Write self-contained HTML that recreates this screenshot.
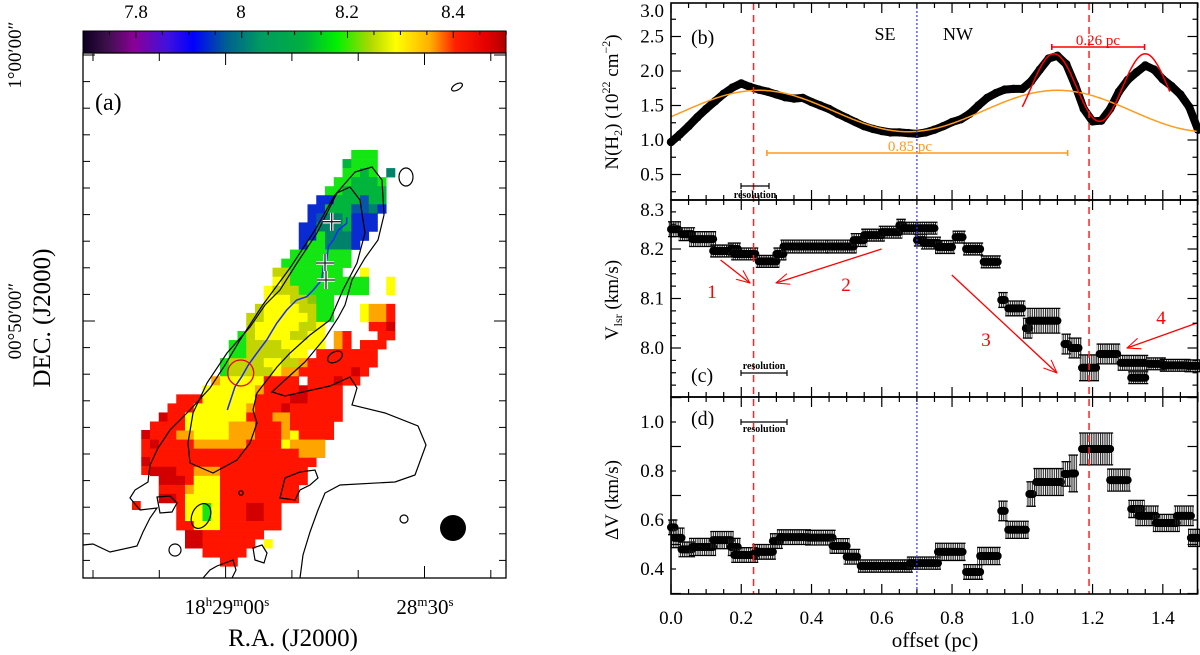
<!DOCTYPE html>
<html><head><meta charset="utf-8">
<style>
html,body{margin:0;padding:0;background:#fff;}
svg{display:block;}
text{font-family:"Liberation Serif","DejaVu Serif",serif;}
</style></head>
<body>
<svg id="fig" width="1200" height="655" viewBox="0 0 1200 655" xmlns="http://www.w3.org/2000/svg">
<defs>
<linearGradient id="cbar" x1="0" x2="1" y1="0" y2="0">
<stop offset="0" stop-color="#0a0020"/><stop offset="0.06" stop-color="#40104e"/>
<stop offset="0.12" stop-color="#8a0096"/><stop offset="0.2" stop-color="#4010e0"/>
<stop offset="0.26" stop-color="#0000ff"/><stop offset="0.34" stop-color="#006090"/>
<stop offset="0.42" stop-color="#009a60"/><stop offset="0.52" stop-color="#00b040"/>
<stop offset="0.6" stop-color="#00f000"/><stop offset="0.68" stop-color="#b0d800"/>
<stop offset="0.74" stop-color="#ffff00"/><stop offset="0.82" stop-color="#ffb000"/>
<stop offset="0.88" stop-color="#ff2000"/><stop offset="0.95" stop-color="#e80000"/>
<stop offset="1" stop-color="#b00000"/>
</linearGradient>
<pattern id="vstripe" width="2.2" height="10" patternUnits="userSpaceOnUse">
<rect x="0" y="0" width="1.1" height="10" fill="#222"/>
</pattern>
<marker id="ah" viewBox="0 0 20 20" refX="19" refY="10" markerWidth="14" markerHeight="14" orient="auto" markerUnits="userSpaceOnUse">
<path d="M0,2 L19,10 L0,18" fill="none" stroke="#f00" stroke-width="1.5"/>
</marker>
</defs>

<g id="left">
<rect x="83" y="31" width="423" height="22" fill="url(#cbar)" stroke="#000" stroke-width="1"/>
<g id="cbticks"></g>
<text x="136" y="18" font-size="19" text-anchor="middle">7.8</text>
<text x="241" y="18" font-size="19" text-anchor="middle">8</text>
<text x="347" y="18" font-size="19" text-anchor="middle">8.2</text>
<text x="453" y="18" font-size="19" text-anchor="middle">8.4</text>
<g id="mapcells"></g>
<g id="contours" fill="none" stroke="#000" stroke-width="1.2">
<polyline points="83,545 93,544 110,552 137,546 143,532 150,518 157,508 140,510 130,498 135,490 148,482 150,465 158,448 170,430 190,410 210,388 225,365 240,340 262,306 290,268 315,230 335,195 355,172 372,167 382,180 384,215 378,240 365,258 352,280 345,305 338,318 325,338 305,362 285,380 272,392 285,396 330,386 350,377 357,388 352,405 385,413 418,426 426,445 415,475 395,482 340,485 325,493 318,510 310,532 303,555 300,578"/>
<polygon points="350,187 360,200 365,233 357,263 343,290 330,320 310,335 290,353 277,367 257,393 253,410 257,423 250,443 237,460 213,473 190,463 188,443 193,413 207,383 227,353 250,327 265,305 280,290 297,263 317,233 337,193"/>
<polygon points="280,498 285,478 300,472 315,470 318,478 310,485 300,490 295,500"/>
<ellipse cx="201" cy="516" rx="9" ry="13" transform="rotate(25 201 516)"/>
<ellipse cx="335" cy="357" rx="8" ry="5" transform="rotate(-30 335 357)"/>
<polygon points="157,497 170,496 177,503 172,512 160,513"/>
<circle cx="241" cy="493" r="2.2"/>
<circle cx="404" cy="519" r="4"/>
<circle cx="175" cy="550" r="6"/>
<polygon points="253,548 262,545 267,553 264,563 255,560"/>
<ellipse cx="457" cy="87" rx="6" ry="3" transform="rotate(-30 457 87)"/>
<ellipse cx="406" cy="177" rx="7" ry="9"/>
<polyline points="203,578 210,570 217,566 233,560 236,570 232,578"/>
</g>
<polyline fill="none" stroke="#1a2aff" stroke-width="1.5" points="346.7,217.3 346.7,223.3 338.3,230 333.3,240 328.3,246.7 326.7,260 323.3,266.7 321.7,280 313.3,290 306.7,296.7 296.7,300 286.7,310 276.7,323.3 266.7,340 256.7,353.3 248.3,365 241.7,376.7 235,386.7 231.7,396.7 227.3,410"/>
<circle cx="240.7" cy="373" r="13" fill="none" stroke="#e00" stroke-width="1.3"/>
<g id="crosses"></g>
<circle cx="453" cy="528" r="13" fill="#000"/>
<rect x="83" y="53" width="423" height="525" fill="none" stroke="#000" stroke-width="1.3"/>
<g id="mapticks" stroke="#000" stroke-width="1"></g>
<text x="95" y="110" font-size="24">(a)</text>
<text transform="translate(21,55) rotate(-90)" font-size="19" text-anchor="middle">1°00′00″</text>
<text transform="translate(21,321) rotate(-90)" font-size="19" text-anchor="middle">00°50′00″</text>
<text transform="translate(50,318) rotate(-90)" font-size="25" text-anchor="middle">DEC. (J2000)</text>
<text x="227" y="614" font-size="21" text-anchor="middle">18<tspan font-size="13" dy="-8">h</tspan><tspan dy="8">29</tspan><tspan font-size="13" dy="-8">m</tspan><tspan dy="8">00</tspan><tspan font-size="13" dy="-8">s</tspan></text>
<text x="425" y="614" font-size="21" text-anchor="middle">28<tspan font-size="13" dy="-8">m</tspan><tspan dy="8">30</tspan><tspan font-size="13" dy="-8">s</tspan></text>
<text x="293" y="646" font-size="25" text-anchor="middle">R.A. (J2000)</text>
</g>

<g id="right"></g>
<text x="935" y="647" font-size="21" text-anchor="middle">offset (pc)</text>
<text transform="translate(618,102) rotate(-90)" font-size="19" text-anchor="middle">N(H<tspan font-size="12" dy="4">2</tspan><tspan dy="-4">) (10</tspan><tspan font-size="12" dy="-8">22</tspan><tspan dy="8"> cm</tspan><tspan font-size="12" dy="-8">−2</tspan><tspan dy="8">)</tspan></text>
<text transform="translate(618,300) rotate(-90)" font-size="19" text-anchor="middle">V<tspan font-size="12" dy="4">lsr</tspan><tspan dy="-4"> (km/s)</tspan></text>
<text transform="translate(618,500) rotate(-90)" font-size="19" text-anchor="middle">ΔV (km/s)</text>
</svg>

<script>
// ---------------- data: panel (b) N(H2) profile ----------------
const nh2Offsets = [0,0.025,0.05,0.075,0.1,0.125,0.15,0.175,0.2,0.225,0.25,0.275,0.3,0.325,0.35,0.375,0.4,0.425,0.45,0.475,0.5,0.525,0.55,0.575,0.6,0.625,0.65,0.675,0.7,0.725,0.75,0.775,0.8,0.825,0.85,0.875,0.9,0.925,0.95,0.975,1.0,1.025,1.05,1.075,1.1,1.125,1.15,1.175,1.2,1.225,1.25,1.275,1.3,1.325,1.35,1.375,1.4,1.425,1.45,1.475,1.5];
const nh2Values = [0.97,1.08,1.2,1.33,1.45,1.56,1.67,1.76,1.82,1.77,1.73,1.70,1.66,1.62,1.60,1.61,1.55,1.50,1.45,1.38,1.32,1.26,1.2,1.16,1.13,1.11,1.11,1.10,1.09,1.11,1.15,1.2,1.26,1.3,1.38,1.5,1.61,1.68,1.73,1.74,1.74,1.85,2.02,2.18,2.22,2.1,1.8,1.45,1.27,1.28,1.45,1.7,1.87,1.98,2.08,2.02,1.88,1.78,1.66,1.48,1.15];
// sinusoid fits: [mean, amplitude, period(pc), peak offset, xmin, xmax]
const orangeFit = [1.42, 0.30, 0.85, 0.25, 0.0, 1.5];
const redFit = [1.76, 0.49, 0.26, 1.09, 1.0, 1.42];
// ---------------- data: panel (c) Vlsr steps ----------------
const vStart = [0.0,0.03,0.06,0.12,0.17,0.18,0.25,0.30,0.32,0.45,0.52,0.55,0.60,0.65,0.66,0.70,0.72,0.76,0.81,0.84,0.89,0.94,0.96,1.01,1.02,1.12,1.14,1.17,1.22,1.28,1.31,1.36,1.40,1.47];
const vEnd   = [0.02,0.06,0.12,0.17,0.19,0.24,0.30,0.32,0.44,0.52,0.55,0.60,0.65,0.66,0.75,0.72,0.76,0.80,0.83,0.88,0.93,0.95,1.00,1.02,1.10,1.13,1.16,1.21,1.27,1.35,1.35,1.40,1.47,1.50];
const vVal   = [8.24,8.23,8.22,8.196,8.2,8.19,8.175,8.19,8.205,8.205,8.218,8.228,8.234,8.248,8.242,8.218,8.212,8.204,8.224,8.2,8.174,8.097,8.08,8.04,8.055,8.008,8.0,7.96,7.988,7.97,7.94,7.968,7.965,7.964];
const vErr   = [0.015,0.013,0.015,0.012,0.012,0.012,0.012,0.012,0.013,0.013,0.013,0.012,0.012,0.012,0.012,0.012,0.012,0.013,0.012,0.012,0.012,0.015,0.015,0.02,0.025,0.02,0.02,0.026,0.02,0.015,0.012,0.012,0.012,0.012];
// ---------------- data: panel (d) line width steps ----------------
const dStart = [0.0,0.01,0.03,0.06,0.12,0.17,0.18,0.24,0.29,0.31,0.39,0.46,0.50,0.54,0.68,0.76,0.84,0.88,0.94,0.96,1.02,1.04,1.12,1.14,1.17,1.25,1.31,1.33,1.38,1.44,1.48];
const dEnd   = [0.01,0.03,0.06,0.12,0.17,0.19,0.24,0.29,0.31,0.39,0.46,0.50,0.53,0.68,0.76,0.83,0.88,0.93,0.95,1.01,1.03,1.11,1.13,1.15,1.25,1.30,1.34,1.38,1.44,1.48,1.50];
const dVal   = [0.57,0.527,0.48,0.49,0.518,0.49,0.457,0.47,0.514,0.53,0.528,0.494,0.45,0.412,0.424,0.47,0.388,0.453,0.637,0.56,0.706,0.755,0.788,0.79,0.89,0.763,0.645,0.617,0.588,0.617,0.527];
const dErr   = [0.03,0.04,0.03,0.035,0.035,0.035,0.03,0.03,0.03,0.03,0.03,0.03,0.03,0.025,0.025,0.035,0.03,0.035,0.04,0.035,0.05,0.055,0.05,0.075,0.065,0.045,0.035,0.04,0.035,0.04,0.035];
// tick labels
const xTickLabels = ["0.0","0.2","0.4","0.6","0.8","1.0","1.2","1.4"];
const bTickLabels = ["0.5","1.0","1.5","2.0","2.5","3.0"];
const cTickLabels = ["8.0","8.1","8.2","8.3"];
const dTickLabels = ["0.4","0.6","0.8","1.0"];
// reference lines
const redLines = [0.235, 1.19];
const blueLine = [0.70];

const NS = "http://www.w3.org/2000/svg";
function mk(tag, attrs, parent){ const e=document.createElementNS(NS,tag); for(const k in attrs) e.setAttribute(k,attrs[k]); parent.appendChild(e); return e; }

const L = 671, R = 1197.5;
const xS = p => L + p*351.3;
const yB = v => 140 - (v-1)*69;
const yC = v => 249 - (v-8.2)*495;
const yD = v => 422 + (1.0-v)*245;
const panels = [{y0:3,y1:200,ys:yB,name:'b'},{y0:200,y1:397,ys:yC,name:'c'},{y0:397,y1:594,ys:yD,name:'d'}];
const right = document.getElementById('right');

panels.forEach(p=>{
  const g = mk('g',{},right);
  
  
  p.g = g;
});
const gb = panels[0].g;
redLines.forEach(v=>{
  const ln = mk('line',{x1:xS(v),x2:xS(v),y1:3,y2:594,stroke:'#f22','stroke-width':1.5,'stroke-dasharray':'7,5'},right);
  
  
});
blueLine.forEach(v=>{
  const ln = mk('line',{x1:xS(v),x2:xS(v),y1:3,y2:594,stroke:'#33f','stroke-width':1.2,'stroke-dasharray':'2,2'},right);
  
  
});
function fitPath(f){
  let d='';
  for(let x=f[4]; x<=f[5]+1e-9; x+=0.005){
    const v = f[0] + f[1]*Math.cos(2*Math.PI*(x-f[3])/f[2]);
    d += (d?'L':'M') + xS(x).toFixed(1)+','+yB(v).toFixed(1);
  }
  return d;
}
let pts = nh2Offsets.map((x,i)=>xS(x).toFixed(1)+','+yB(nh2Values[i]).toFixed(1)).join(' ');
const prof = mk('polyline',{points:pts,fill:'none',stroke:'#000','stroke-width':8,'stroke-linejoin':'round','stroke-linecap':'round'},gb);


nh2Offsets.forEach((x,i)=>{
  const c = mk('circle',{cx:xS(x),cy:yB(nh2Values[i]),r:4.2,fill:'#000'},gb);
  
  
});
const ofit = mk('path',{d:fitPath(orangeFit),fill:'none',stroke:'#ff9a1a','stroke-width':1.5},gb);


const rfit = mk('path',{d:fitPath(redFit),fill:'none',stroke:'#f00','stroke-width':1.5},gb);


function bar(x1,x2,y,col,w,name){
  const g=mk('g',{stroke:col,'stroke-width':w},right);
  
  
  mk('line',{x1:x1,x2:x2,y1:y,y2:y},g);
  mk('line',{x1:x1,x2:x1,y1:y-3,y2:y+3},g);
  mk('line',{x1:x2,x2:x2,y1:y-3,y2:y+3},g);
}
bar(xS(0.273),xS(1.129),153,'#ff9a1a',1.6,'period-bar-0.85pc');
bar(xS(1.084),xS(1.348),47,'#f00',1.6,'period-bar-0.26pc');
bar(741,769,186,'#000',1.2,'resolution-bar-b');
bar(741,787,373,'#000',1.2,'resolution-bar-c');
bar(741,787,422,'#000',1.2,'resolution-bar-d');
function txt(x,y,s,size,col,anchor,name,weight){
  const t=mk('text',{x:x,y:y,'font-size':size,fill:col,'text-anchor':anchor||'start'},right);
  if(weight){ t.setAttribute('font-weight',weight); t.setAttribute('font-family','"Liberation Mono","DejaVu Sans Mono",monospace'); }
  t.textContent=s;
  
  
  return t;
}
txt(910,151,'0.85 pc',15,'#ff9a1a','middle','label-0.85pc');
txt(1098,45,'0.26 pc',15,'#f00','middle','label-0.26pc');
txt(755,198,'resolution',10,'#000','middle','resolution-label-b','bold');
txt(764,369,'resolution',10,'#000','middle','resolution-label-c','bold');
txt(764,432,'resolution',10,'#000','middle','resolution-label-d','bold');
txt(691,44,'(b)',20,'#000','start','panel-label-b');
txt(691,382,'(c)',20,'#000','start','panel-label-c');
txt(691,425,'(d)',20,'#000','start','panel-label-d');
txt(885,40,'SE',18,'#000','middle','label-se');
txt(958,40,'NW',18,'#000','middle','label-nw');

function steps(g, s, e, v, er, ys, name){
  s.forEach((x0,i)=>{
    const x1=xS(x0)-3, x2=xS(e[i])+3, yt=ys(v[i]+er[i]), yb=ys(v[i]-er[i]);
    const grp=mk('g',{},g);
    
    
    mk('rect',{x:x1,y:yt,width:x2-x1,height:yb-yt,fill:'url(#vstripe)'},grp);
    mk('line',{x1:x1,x2:x2,y1:yt,y2:yt,stroke:'#000','stroke-width':1.3},grp);
    mk('line',{x1:x1,x2:x2,y1:yb,y2:yb,stroke:'#000','stroke-width':1.3},grp);
    mk('line',{x1:xS(x0),x2:xS(e[i]),y1:ys(v[i]),y2:ys(v[i]),stroke:'#000','stroke-width':8,'stroke-linecap':'round'},grp);
  });
}
steps(panels[1].g, vStart, vEnd, vVal, vErr, yC, 'vlsr-step');
steps(panels[2].g, dStart, dEnd, dVal, dErr, yD, 'linewidth-step');

[[720.6,260,750,283,'arrow-1'],[881.6,249,776,283,'arrow-2'],[951.8,275,1057,373,'arrow-3'],[1197,323,1127,348,'arrow-4']].forEach(a=>{
  const l=mk('line',{x1:a[0],y1:a[1],x2:a[2],y2:a[3],stroke:'#f00','stroke-width':1.3,'marker-end':'url(#ah)'},right);
  
  
});
txt(712,298,'1',19,'#f00','middle','arrow-label-1');
txt(846,291,'2',19,'#f00','middle','arrow-label-2');
txt(986,346,'3',19,'#f00','middle','arrow-label-3');
txt(1161,324,'4',19,'#f00','middle','arrow-label-4');

const tg = mk('g',{stroke:'#000','stroke-width':1.2},right);


panels.forEach(p=>{
  const fr = mk('rect',{x:L,y:p.y0,width:R-L,height:p.y1-p.y0,fill:'none',stroke:'#000','stroke-width':1.6},right);
  
  
  for(let k=0;k<=30;k++){
    const x=xS(k*0.05), len=(k%4===0)?10:5;
    mk('line',{x1:x,x2:x,y1:p.y1,y2:p.y1-len},tg);
    mk('line',{x1:x,x2:x,y1:p.y0,y2:p.y0+len},tg);
  }
});
function yTicks(ys, lo, hi, step, majorEvery, y0, y1){
  const n=Math.round((hi-lo)/step);
  for(let k=0;k<=n;k++){
    const v=lo+k*step, y=ys(v);
    if(y<y0-0.5||y>y1+0.5) continue;
    const len=(k%majorEvery===0)?10:5;
    mk('line',{x1:L,x2:L+len,y1:y,y2:y},tg);
    mk('line',{x1:R,x2:R-len,y1:y,y2:y},tg);
  }
}
yTicks(yB,0.0,3.0,0.25,2,3,200);
yTicks(yC,7.9,8.3,0.025,4,200,397);
yTicks(yD,0.3,1.1,0.1,2,397,594);
bTickLabels.forEach(s=>{ const y=Math.max(yB(parseFloat(s))+6,17); txt(664,y,s,19,'#000','end','y-tick-b'); });
cTickLabels.forEach(s=>{ const y=Math.max(yC(parseFloat(s))+6,216); txt(664,y,s,19,'#000','end','y-tick-c'); });
dTickLabels.forEach(s=>{ txt(664,yD(parseFloat(s))+6,s,19,'#000','end','y-tick-d'); });
xTickLabels.forEach(s=>{ txt(xS(parseFloat(s)),624,s,19,'#000','middle','x-tick'); });

// ---------------- left panel: velocity map pixels ----------------
const mapRows = [
".......................GGG....",
"......................gGGG....",
"......................GGgG.T..",
".....................GGgggG...",
"....................GGggggg...",
"...................BBgggbgg...",
"..................BBgggbbTB...",
"..................BbTTgBBB....",
".................BBTTTgBBB....",
".................BBGTTTBB.....",
".................BGGTTTB......",
"................GGGGGGG.......",
"...............GGGGGGGG.......",
"..............yyGGGGGG..Y.....",
"..............YyGGGGGGGGG..Y..",
".............YyyyGGGGGGGG..Y..",
".............YYYyyoGG.........",
"............yYYYYyyGG...YOOR..",
"...........yyYYYYYyGG...YOOR..",
"...........yYYYYYyyY.....RRD..",
"..........GyYYYYyyYY.OR...RR..",
".........GGyyyyYYYYY.OR.RRR...",
".........GGyyyyyYY.RRRRRRR....",
"........GyyyyYYyyORRRRRRRR....",
"........GyyyyyYOORRRRRRDR.....",
".......OYYYYYRRRR.RRRDRR......",
"......YYYYYYORRRRDRRRR........",
"...RRRYYYYYYRRRRDDRRRR........",
"..RRRYYYYYYORRRDRRRRRR........",
".DRRYYYYYYYRRROORRRRRR........",
"RRRRYYYYYOOORRRORRRRR.........",
"RRROOYYYYOOORRROYRRRR.........",
"DRRRROOOOOORRRRYOOOO..........",
"RRRRRRRRRRRRRRRRROOO..........",
"RRRRRRRRRRRRRRRRRRR...........",
"DDDRROOORRRRRRRRRR............",
".DDDRYYYRRRRRRRRRR............",
".RRROYYYRRRRRRRRR.............",
".DDRYYYYRRRRRRRRR.............",
"...RYYGYRRRDDRR...............",
"...RYYGYRRRDDRR...............",
"...RRYYYRRRRRRR...............",
"....DDRRRRRRR.................",
"....DDRRRRRR.Y................",
"......RRRRR...................",
"........RR...................."];
const pixColors = {G:'#14e614',g:'#00b43c',T:'#00826a',B:'#0a2ad2',b:'#0854a8',y:'#c4d400',o:'#8cc800',Y:'#ffff00',O:'#ffa500',R:'#ff1400',D:'#d20000'};
const mc = document.getElementById('mapcells');
const cw = 8.75, ch = 9.05, gx0 = 150, gy0 = 150;
mapRows.forEach((row,r)=>{
  for(let c=0;c<row.length;c++){
    const k=row[c]; if(k==='.') continue;
    const e=mk('rect',{x:(gx0+c*cw).toFixed(2),y:(gy0+r*ch).toFixed(2),width:cw+0.3,height:ch+0.3,fill:pixColors[k]},mc);
    
    
  }
});
const lone = mk('rect',{x:132,y:501,width:8.75,height:9,fill:'#ff1400'},mc);


[[141.25,430,'D'],[141.25,439,'R'],[141.25,448,'R'],[141.25,457,'D'],[141.25,466,'R']].forEach(p=>{
  const e=mk('rect',{x:p[0],y:p[1],width:8.75,height:9,fill:pixColors[p[2]]},mc);
  
  
});

const cr=document.getElementById('crosses');
[[331.7,221.7],[325,263],[326,280]].forEach(p=>{
  const g=mk('g',{},cr);
  
  
  mk('path',{d:`M${p[0]-9},${p[1]}H${p[0]+9}M${p[0]},${p[1]-9}V${p[1]+9}`,stroke:'#fff','stroke-width':3.5},g);
  mk('path',{d:`M${p[0]-9},${p[1]}H${p[0]+9}M${p[0]},${p[1]-9}V${p[1]+9}`,stroke:'#222','stroke-width':1.3},g);
});

const mt=document.getElementById('mapticks');
for(let x=93;x<506;x+=66.3){
  const big = Math.abs(x-226)<3||Math.abs(x-425)<3;
  mk('line',{x1:x,x2:x,y1:578,y2:578-(big?12:8)},mt);
  mk('line',{x1:x,x2:x,y1:53,y2:53+(big?12:8)},mt);
}
for(let k=-1;k<=20;k++){
  const y=55+k*26.6; if(y<53||y>578) continue;
  mk('line',{x1:83,x2:83+(k%10===0?12:7),y1:y,y2:y},mt);
  mk('line',{x1:506,x2:506-(k%10===0?12:7),y1:y,y2:y},mt);
}
const cbt=document.getElementById('cbticks');
for(let k=0;k<=16;k++){
  const x=83+k*26.45;
  mk('line',{x1:x,x2:x,y1:31,y2:(k%4===2)?38:35,stroke:'#000','stroke-width':1},cbt);
}
</script>
</body></html>
